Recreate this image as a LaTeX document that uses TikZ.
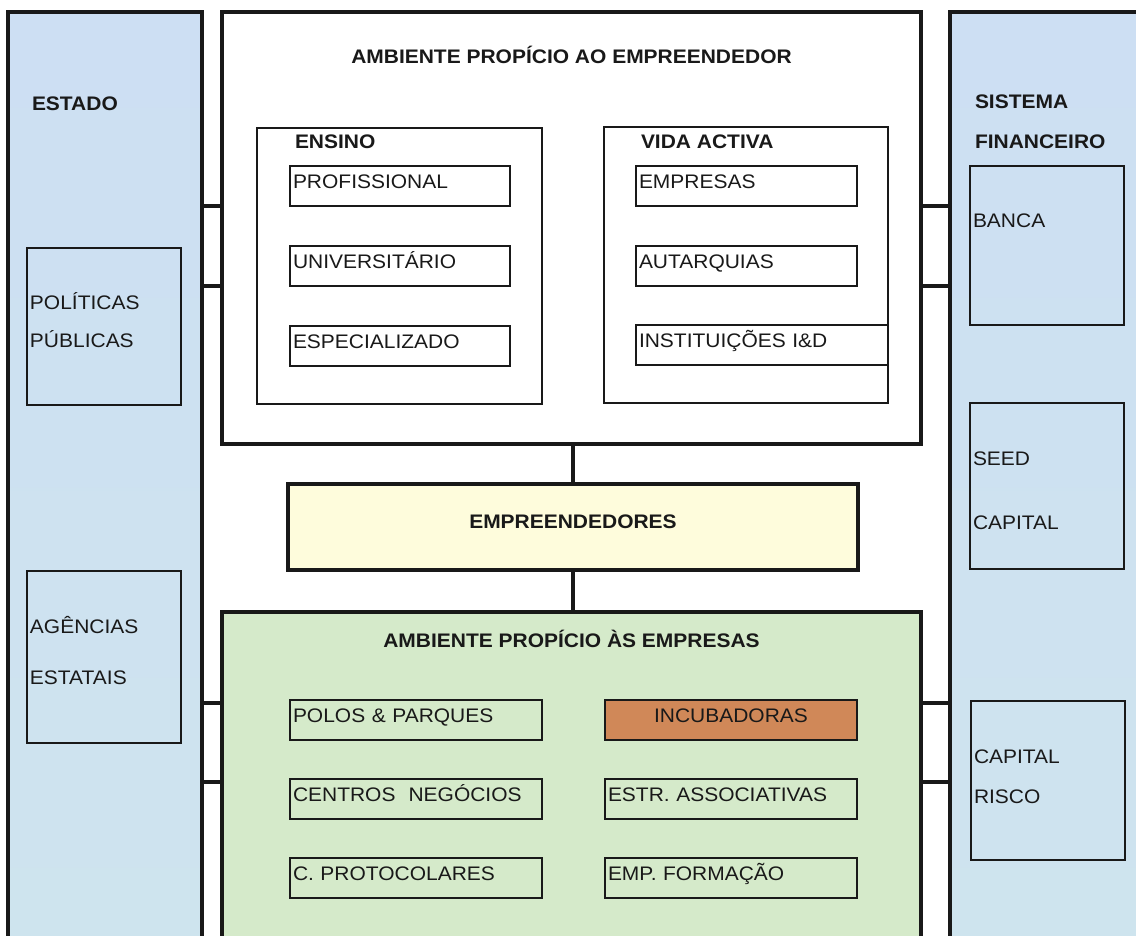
\documentclass[tikz,border=0pt]{standalone}
\usepackage{fontspec}
\setmainfont{Liberation Sans}[FakeStretch=1.07]
\usetikzlibrary{positioning}
\definecolor{colblue}{RGB}{205,223,243}
\definecolor{colbluelow}{RGB}{206,228,238}
\definecolor{envgreen}{RGB}{213,234,202}
\definecolor{entyellow}{RGB}{254,252,220}
\definecolor{incbrown}{RGB}{208,136,88}
\definecolor{ink}{RGB}{25,25,25}

\begin{document}
\begin{tikzpicture}[x=1pt, y=-1pt, font=\fontsize{19.6}{23}\selectfont, text=ink, outer sep=0pt,
  thickbox/.style={draw=ink, line width=3.2pt, anchor=north west, inner sep=0pt},
  col/.style={thickbox, top color=colblue, bottom color=colbluelow, minimum width=194pt, minimum height=950pt},
  grp/.style={draw=ink, line width=1.6pt, fill=white, anchor=north west, minimum width=#1, minimum height=276pt},
  item/.style={draw=ink, line width=1.6pt, anchor=north west, text width=#1, inner xsep=3pt, inner ysep=0pt,
    minimum height=40pt, align=left, text height=14pt, text depth=9pt},
  side/.style={draw=ink, line width=1.6pt, anchor=north west, text width=148pt, inner xsep=3pt, align=left, minimum height=#1},
  head/.style={font=\fontsize{19.6}{23}\selectfont\bfseries, inner sep=0pt, text height=14pt, text depth=0pt, anchor=west},
  conn/.style={draw=ink, line width=3.2pt}]
  \useasboundingbox (0,0) rectangle (1136,936);
  \fill[white] (0,0) rectangle (1136,936);
  \clip (0,0) rectangle (1136,936);

  \node[col] (estado) at (8,12) {};
  \node[col] (sistema) at (950,12) {};
  \node[head] (estadot) at ([shift={(24,92)}]estado.north west) {ESTADO};
  \node[head] (sistemat) at ([shift={(25,90)}]sistema.north west) {SISTEMA};
  \node[head] (financt) at ([shift={(25,130)}]sistema.north west) {FINANCEIRO};
  \node[side=157pt, text depth=50pt] (polpub) at (27,248) {POL\'ITICAS\\[15pt]P\'UBLICAS};
  \node[side=172pt, text depth=64pt] (agencias) at (27,571) {AG\^ENCIAS\\[28pt]ESTATAIS};
  \node[side=159pt, text depth=50pt] (banca) at (970,166) {BANCA};
  \node[side=166pt, text depth=54pt] (seed) at (970,403) {SEED\\[41pt]CAPITAL};
  \node[side=159pt, text depth=48pt] (risco) at (971,701) {CAPITAL\\[17pt]RISCO};

  \node[thickbox, fill=white, minimum width=699pt, minimum height=432pt] (amb) at (222,12) {};
  \node[head, anchor=center] (ambt) at ([yshift=-45pt]amb.north) {AMBIENTE PROP\'ICIO AO EMPREENDEDOR};
  \node[grp=285pt] (ensino) at (257,128) {};
  \node[grp=284pt] (vida) at (604,127) {};
  \node[head] (ensinot) at ([shift={(38,14)}]ensino.north west) {ENSINO};
  \node[head] (vidat) at ([shift={(37,15)}]vida.north west) {VIDA ACTIVA};
  \node[item=214pt] (prof) at (290,166) {PROFISSIONAL};
  \node[item=214pt] (univ) at (290,246) {UNIVERSIT\'ARIO};
  \node[item=214pt] (espec) at (290,326) {ESPECIALIZADO};
  \node[item=215pt] (empresas) at (636,166) {EMPRESAS};
  \node[item=215pt] (autarq) at (636,246) {AUTARQUIAS};
  \node[item=246pt] (instit) at (636,325) {INSTITUI\c{C}\~OES I\&D};

  \node[thickbox, fill=entyellow, minimum width=570pt, minimum height=86pt,
    font=\fontsize{19.6}{23}\selectfont\bfseries, text height=14pt, text depth=11pt] (empr) at (288,484) {EMPREENDEDORES};

  \node[thickbox, fill=envgreen, minimum width=699pt, minimum height=340pt] (amb2) at (222,612) {};
  \node[head, anchor=center] (amb2t) at ([yshift=-28pt]amb2.north) {AMBIENTE PROP\'ICIO \`AS EMPRESAS};
  \node[item=246pt] (polos) at (290,700) {POLOS \& PARQUES};
  \node[item=246pt] (centros) at (290,779) {CENTROS~~NEG\'OCIOS};
  \node[item=246pt] (protoc) at (290,858) {C. PROTOCOLARES};
  \node[item=246pt, fill=incbrown, align=center] (incub) at (605,700) {INCUBADORAS};
  \node[item=246pt] (estr) at (605,779) {ESTR. ASSOCIATIVAS};
  \node[item=246pt] (formac) at (605,858) {EMP. FORMA\c{C}\~AO};

  \coordinate (lowa) at ([yshift=-3pt]polos.north);
  \coordinate (lowb) at ([yshift=-3pt]centros.north);
  \draw[conn] (estado.east |- prof.south) -- (amb.west |- prof.south);
  \draw[conn] (estado.east |- univ.south) -- (amb.west |- univ.south);
  \draw[conn] (amb.east |- prof.south) -- (sistema.west |- prof.south);
  \draw[conn] (amb.east |- univ.south) -- (sistema.west |- univ.south);
  \draw[conn] (estado.east |- lowa) -- (amb2.west |- lowa);
  \draw[conn] (estado.east |- lowb) -- (amb2.west |- lowb);
  \draw[conn] (amb2.east |- lowa) -- (sistema.west |- lowa);
  \draw[conn] (amb2.east |- lowb) -- (sistema.west |- lowb);
  \draw[conn] (empr.north |- amb.south) -- (empr.north);
  \draw[conn] (empr.south) -- (empr.south |- amb2.north);
\end{tikzpicture}
\end{document}
